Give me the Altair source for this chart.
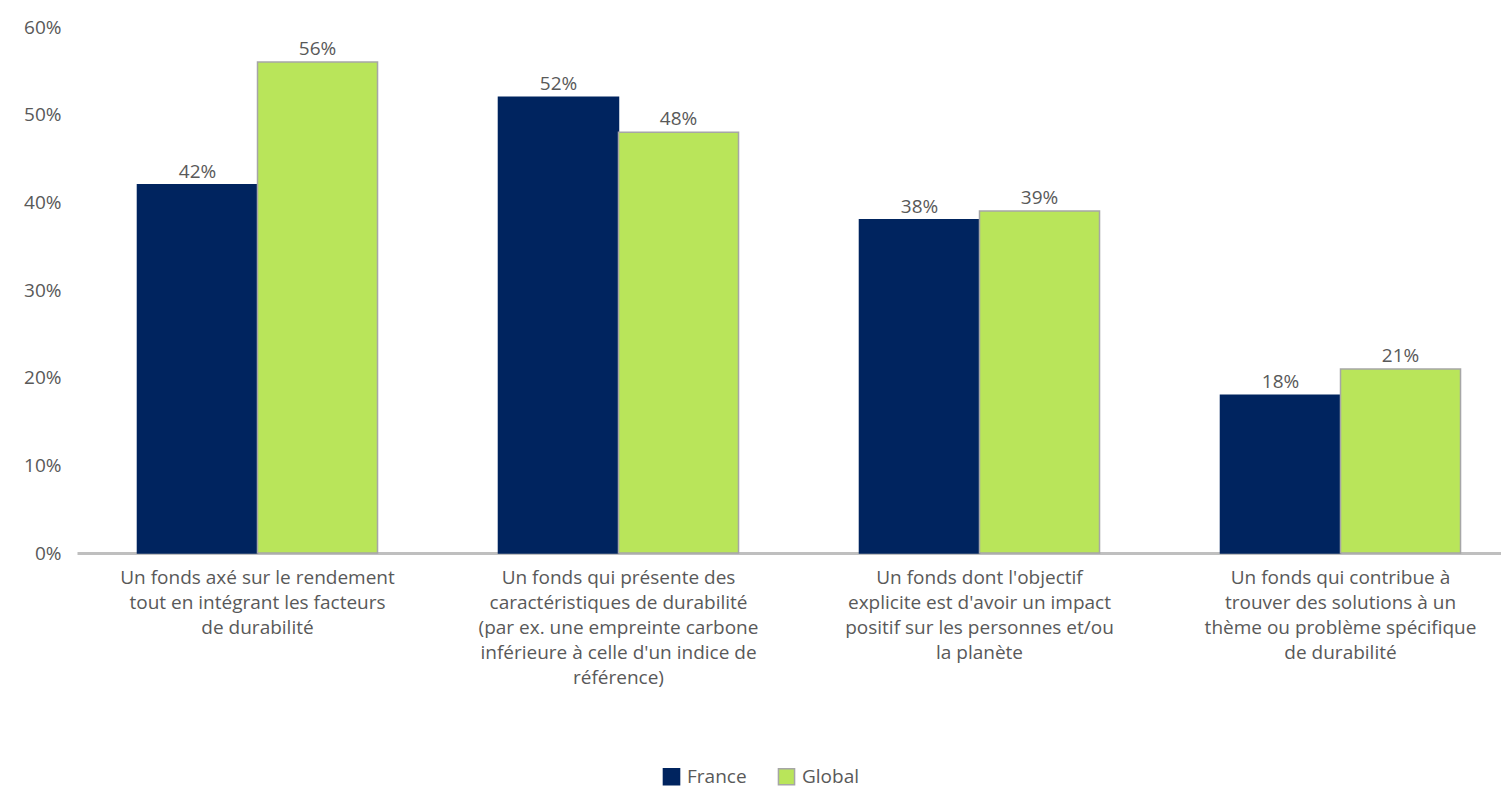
import altair as alt
import pandas as pd

categories = [
    "Un fonds axé sur le rendement\ntout en intégrant les facteurs\nde durabilité",
    "Un fonds qui présente des\ncaractéristiques de durabilité\n(par ex. une empreinte carbone\ninférieure à celle d'un indice de\nréférence)",
    "Un fonds dont l'objectif\nexplicite est d'avoir un impact\npositif sur les personnes et/ou\nla planète",
    "Un fonds qui contribue à\ntrouver des solutions à un\nthème ou problème spécifique\nde durabilité",
]
series = ["France", "Global"]
france = [42, 52, 38, 18]
global_ = [56, 48, 39, 21]
y_ticks = [0, 10, 20, 30, 40, 50, 60]

rows = []
for i, c in enumerate(categories):
    rows.append({"cat": c, "series": "France", "value": france[i]})
    rows.append({"cat": c, "series": "Global", "value": global_[i]})
df = pd.DataFrame(rows)

navy = "#00245f"
green = "#b9e55a"
grey_text = "#595959"
FONT = "Open Sans"

x = alt.X(
    "cat:N",
    sort=categories,
    scale=alt.Scale(range=[0, 1444], paddingInner=0.335, paddingOuter=0.1675),
    axis=alt.Axis(
        title=None,
        labelExpr="split(datum.value, '\\n')",
        labelAngle=0,
        labelFontSize=19,
        labelLineHeight=25,
        labelColor=grey_text,
        labelPadding=15,
        labelLimit=1000,
        ticks=False,
        domainColor="#bfbfbf",
        domainWidth=3,
    ),
)
xoff = alt.XOffset("series:N", sort=series, scale=alt.Scale(paddingInner=0, paddingOuter=0))
y = alt.Y(
    "value:Q",
    scale=alt.Scale(domain=[0, 60], nice=False),
    axis=alt.Axis(
        title=None,
        values=y_ticks,
        labelExpr="datum.value + '%'",
        labelFontSize=19,
        labelColor=grey_text,
        labelPadding=16,
        ticks=False,
        domain=False,
        grid=False,
    ),
)

bars = alt.Chart(df).mark_bar(strokeWidth=1.5).encode(
    x=x,
    xOffset=xoff,
    y=y,
    color=alt.Color(
        "series:N",
        sort=series,
        scale=alt.Scale(domain=series, range=[navy, green]),
        legend=alt.Legend(
            title=None,
            orient="none",
            legendX=585,
            legendY=740,
            direction="horizontal",
            symbolType="square",
            symbolSize=260,
            symbolStrokeWidth=1.5,
            labelFontSize=19,
            labelColor=grey_text,
            columnPadding=28,
            labelOffset=6,
        ),
    ),
    stroke=alt.Stroke(
        "series:N",
        sort=series,
        scale=alt.Scale(domain=series, range=[navy, "#a6a6a6"]),
        legend=alt.Legend(title=None),
    ),
)

labels = alt.Chart(df).mark_text(
    baseline="bottom", dy=-3, fontSize=19, color=grey_text, font=FONT
).encode(
    x=x,
    xOffset=xoff,
    y=y,
    text=alt.Text("label:N"),
).transform_calculate(label="datum.value + '%'")

chart = (
    alt.layer(bars, labels)
    .properties(
        width=1424,
        height=526,
        padding={"left": 69, "top": 19, "right": 0, "bottom": 235},
        autosize=alt.AutoSizeParams(type="none"),
    )
    .configure(font=FONT)
    .configure_view(stroke=None)
)

chart.save("out.html", embed_options={"renderer": "svg", "actions": False})
